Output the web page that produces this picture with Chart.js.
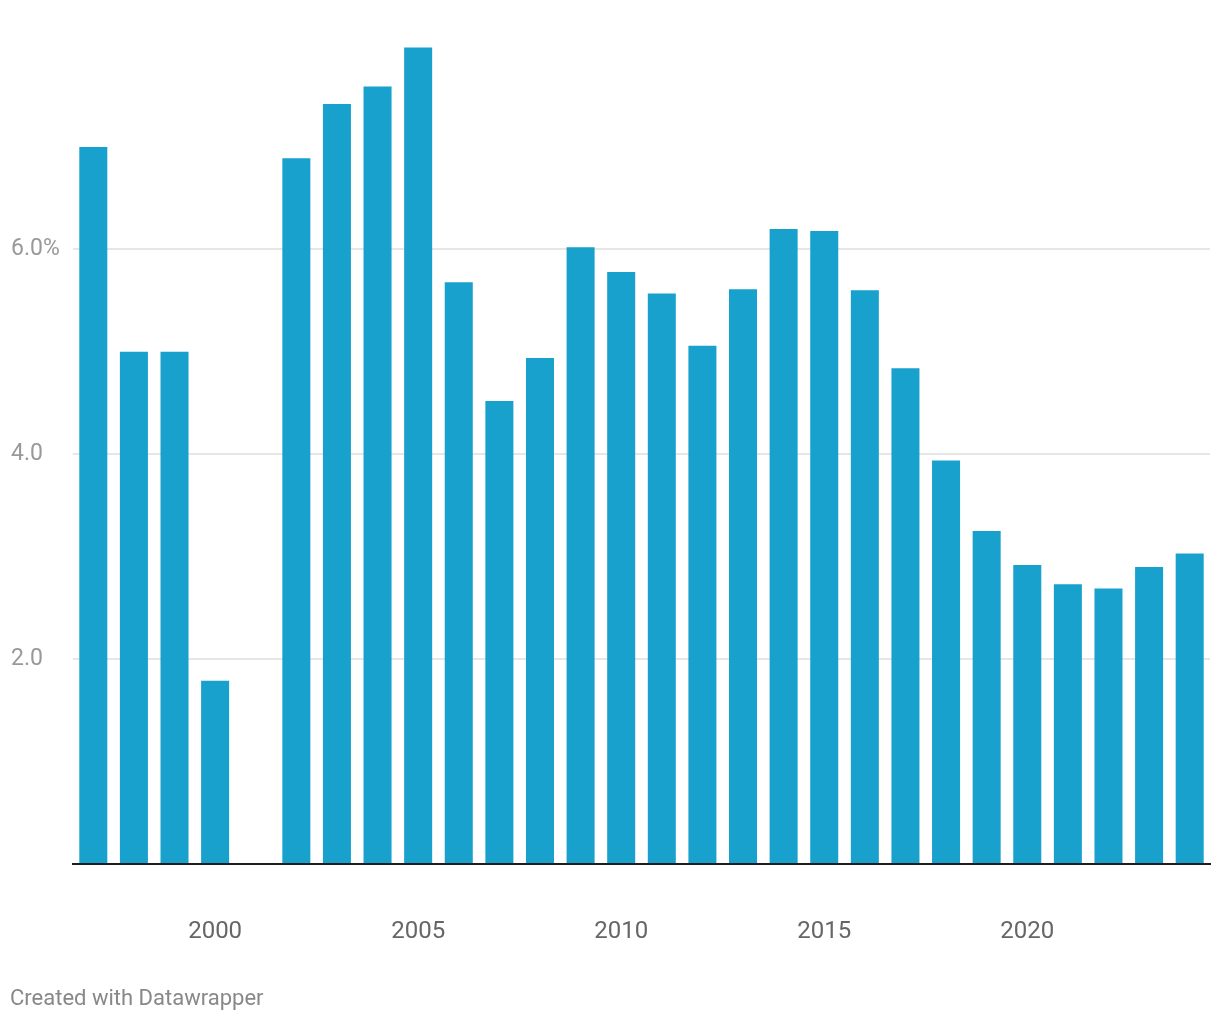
<!DOCTYPE html>
<html>
<head>
<meta charset="utf-8">
<script src="https://cdn.jsdelivr.net/npm/chart.js@4"></script>
<style>
  html, body { margin: 0; background: #fff; overflow: hidden; }
  #wrap { position: relative; width: 1220px; height: 1020px; }
  #footer {
    position: absolute; left: 10px; top: 985px;
    font-family: Roboto, sans-serif; font-size: 22px; color: #888;
  }
</style>
</head>
<body>
<div id="wrap">
  <canvas id="chart"></canvas>
  <div id="footer">Created with Datawrapper</div>
</div>
<script>
// years, 2001 has no value
const years = ['1997','1998','1999','2000','2001','2002','2003','2004','2005','2006',
  '2007','2008','2009','2010','2011','2012','2013','2014','2015','2016',
  '2017','2018','2019','2020','2021','2022','2023','2024'];
const rates = [7.0, 5.0, 5.0, 1.79, null, 6.89, 7.42, 7.59, 7.97, 5.68,
  4.52, 4.94, 6.02, 5.78, 5.57, 5.06, 5.61, 6.20, 6.18, 5.60,
  4.84, 3.94, 3.25, 2.92, 2.73, 2.69, 2.90, 3.03];
const yTicks = [0, 2, 4, 6];
const xShown = ['2000', '2005', '2010', '2015', '2020'];

const ctx = document.getElementById('chart').getContext('2d');
const chart = new Chart(ctx, {
  type: 'bar',
  data: {
    labels: years,
    datasets: [{
      data: rates,
      backgroundColor: '#18a1cd',
      borderWidth: 0,
      categoryPercentage: 1,
      barPercentage: 0.69
    }]
  },
  options: {
    responsive: true,
    maintainAspectRatio: false,
    animation: false,
    layout: { padding: { left: 11, right: 10, top: 24, bottom: 0 } },
    plugins: { legend: { display: false }, tooltip: { enabled: false } },
    scales: {
      x: {
        grid: { display: false, drawTicks: false },
        border: { display: true, color: '#1d1d1d', width: 2 },
        ticks: {
          autoSkip: false, maxRotation: 0, padding: 54,
          color: '#666',
          font: { family: 'Roboto', size: 24 },
          callback: function(v) {
            const l = this.getLabelForValue(v);
            return xShown.includes(l) ? l : '';
          }
        },
        afterFit: s => { s.height = 156; s.paddingLeft = 0; s.paddingRight = 0; }
      },
      y: {
        min: 0, max: 8.2,
        afterBuildTicks: s => { s.ticks = yTicks.map(v => ({ value: v })); },
        afterFit: s => { s.width = 62; },
        grid: {
          drawTicks: false, lineWidth: 2,
          color: c => c.tick && c.tick.value === 0 ? 'rgba(0,0,0,0)' : '#e6e6e6'
        },
        border: { display: false },
        ticks: {
          crossAlign: 'far', padding: 0,
          color: '#999',
          font: { family: 'Roboto', size: 23 },
          callback: v => v === 0 ? '' : (v === 6 ? '6.0%' : v.toFixed(1))
        }
      }
    }
  }
});
</script>
</body>
</html>
